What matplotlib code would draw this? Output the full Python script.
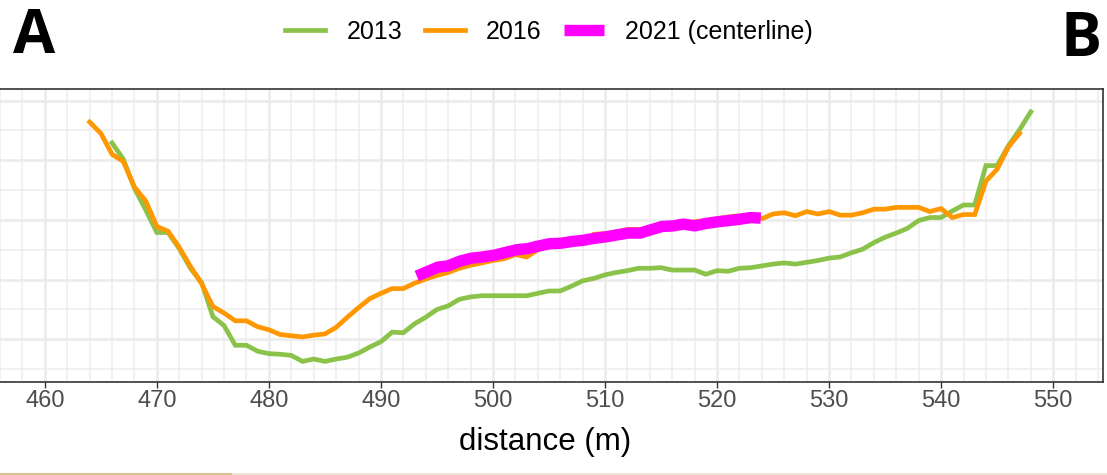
import numpy as np
import matplotlib
matplotlib.use("Agg")
import matplotlib.pyplot as plt
from matplotlib.patches import Rectangle

# --- Données : profils en travers (élévation relative) ---
dist_2013 = np.arange(466, 549)
elev_2013 = [4.29, 4.02, 3.53, 3.17, 2.79, 2.79, 2.52, 2.19, 1.95, 1.38,
             1.23, 0.90, 0.90, 0.80, 0.76, 0.75, 0.73, 0.63, 0.67, 0.63,
             0.67, 0.70, 0.77, 0.87, 0.96, 1.12, 1.11, 1.26, 1.37, 1.50,
             1.56, 1.67, 1.71, 1.73, 1.73, 1.73, 1.73, 1.73, 1.77, 1.81,
             1.81, 1.89, 1.98, 2.02, 2.08, 2.12, 2.15, 2.19, 2.19, 2.20,
             2.16, 2.16, 2.16, 2.09, 2.15, 2.14, 2.19, 2.20, 2.23, 2.26,
             2.28, 2.26, 2.29, 2.32, 2.36, 2.38, 2.45, 2.51, 2.62, 2.71,
             2.78, 2.86, 2.99, 3.04, 3.04, 3.15, 3.25, 3.25, 3.91, 3.91,
             4.24, 4.51, 4.81]

dist_2016 = np.arange(464, 548)
elev_2016 = [4.64, 4.45, 4.10, 3.98, 3.55, 3.32, 2.89, 2.81, 2.54, 2.22,
             1.93, 1.55, 1.44, 1.31, 1.31, 1.21, 1.16, 1.08, 1.06, 1.04,
             1.07, 1.09, 1.20, 1.37, 1.53, 1.68, 1.77, 1.85, 1.85, 1.94,
             2.01, 2.07, 2.12, 2.19, 2.24, 2.28, 2.32, 2.35, 2.42, 2.38,
             2.50, 2.56, 2.58, 2.61, 2.65, 2.76, 2.77, 2.80, 2.84, 2.84,
             2.85, 2.94, 2.92, 2.95, 2.97, 2.99, 3.02, 3.05, 3.07, 3.07,
             3.02, 3.10, 3.12, 3.07, 3.14, 3.10, 3.14, 3.08, 3.08, 3.12,
             3.18, 3.18, 3.21, 3.21, 3.21, 3.14, 3.19, 3.04, 3.09, 3.09,
             3.65, 3.85, 4.22, 4.45]

dist_2021 = [493.2, 494.1, 495.1, 496.0, 497.05, 498.1, 499.1, 500.15, 501.0,
             502.1, 503.1, 504.0, 505.0, 506.1, 507.1, 508.1, 509.0, 510.2,
             511.1, 512.1, 513.15, 514.0, 515.1, 516.1, 517.0, 518.0, 519.0,
             520.1, 521.1, 522.0, 523.0, 523.9]
elev_2021 = [2.06, 2.13, 2.21, 2.23, 2.31, 2.36, 2.38, 2.41, 2.45, 2.50,
             2.52, 2.56, 2.60, 2.61, 2.64, 2.66, 2.69, 2.72, 2.75, 2.78,
             2.78, 2.83, 2.89, 2.90, 2.93, 2.90, 2.94, 2.97, 2.99, 3.01,
             3.04, 3.03]

labels = ["2013", "2016", "2021 (centerline)"]
colors = ["#8BC34A", "#FF9800", "#FF00FF"]

# --- Figure ---
fig = plt.figure(figsize=(11.07, 4.75), dpi=100)
ax = fig.add_axes([0.0, 0.1958, 0.9964, 0.6168])

ax.plot(dist_2013, elev_2013, color=colors[0], lw=3.4, label=labels[0],
        solid_joinstyle="miter", zorder=3)
ax.plot(dist_2016, elev_2016, color=colors[1], lw=3.4, label=labels[1],
        solid_joinstyle="miter", zorder=4)
ax.plot(dist_2021, elev_2021, color=colors[2], lw=8.2, label=labels[2],
        solid_capstyle="butt", zorder=5)

ax.set_xlim(456.75, 554.45)
ax.set_ylim(0.285, 5.193)
ax.set_xticks(np.arange(460, 551, 10))
ax.set_xticks(np.arange(456, 555, 2), minor=True)
ax.set_yticks(np.arange(1, 6, 1))
ax.set_yticks(np.arange(0.5, 5.5, 1), minor=True)

ax.grid(which="major", color="#EBEBEB", lw=1.8)
ax.grid(which="minor", color="#EDEDED", lw=1.1)
ax.set_axisbelow(True)

ax.tick_params(axis="x", which="major", length=4.5, width=1.0, color="#333333",
               labelsize=17, labelcolor="#4D4D4D", pad=1.5)
ax.tick_params(axis="x", which="minor", length=0)
ax.tick_params(axis="y", which="both", length=0, labelleft=False)
for lab in ax.get_xticklabels():
    lab.set_family("Liberation Sans")

for s in ["top", "right", "bottom"]:
    ax.spines[s].set_color("#333333")
    ax.spines[s].set_linewidth(1.2)
ax.spines["left"].set_visible(False)

ax.set_xlabel("distance (m)", fontsize=22.5, family="Liberation Sans",
              color="black")
ax.xaxis.set_label_coords(0.494, -0.155)

# --- Légende ---
fig.legend(loc="upper center", bbox_to_anchor=(0.496, 1.005), ncol=3,
           frameon=False, prop={"family": "Liberation Sans", "size": 18},
           handlelength=1.6, handletextpad=0.85, columnspacing=0.9)

# --- Lettres A / B ---
fig.text(0.012, 0.985, "A", fontsize=44, fontweight="bold", family="Open Sans",
         ha="left", va="top")
fig.text(0.995, 0.98, "B", fontsize=44, fontweight="bold", family="Open Sans",
         ha="right", va="top")

# --- bande du bas (bord de la photo) ---
fig.add_artist(Rectangle((0, 0), 0.21, 0.005, transform=fig.transFigure,
                         color="#D9C58C", lw=0))
fig.add_artist(Rectangle((0.21, 0), 0.79, 0.005, transform=fig.transFigure,
                         color="#EFE4D6", lw=0))

fig.savefig("out.png", dpi=100)
